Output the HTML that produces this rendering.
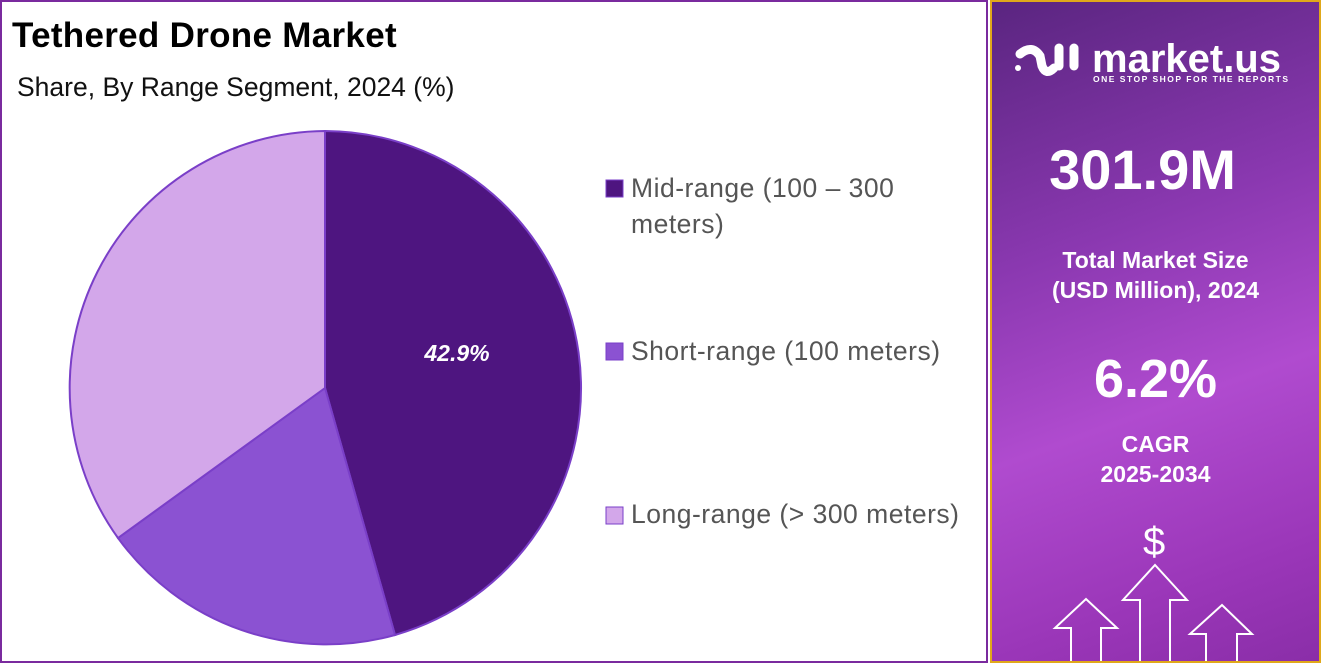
<!DOCTYPE html>
<html><head><style>
body{margin:0;width:1321px;height:663px;overflow:hidden;background:#fff;font-family:"Liberation Sans",sans-serif;}
#left{position:absolute;left:0;top:0;width:984px;height:659px;border:2px solid #7a2a9e;background:#fff;}
#right{position:absolute;left:990px;top:0;width:327px;height:659px;border:2px solid #e0a81a;background:linear-gradient(160deg,#5a2580 0%,#8a38b0 35%,#b04bcf 60%,#9a36b8 85%,#8a2ea8 100%);overflow:hidden;color:#fff;text-align:center;}
.t{position:absolute;font-weight:bold;white-space:nowrap;}
</style></head><body>
<div id="left">
<div class="t" style="left:10px;top:14px;font-size:35px;color:#000;letter-spacing:0.3px;">Tethered Drone Market</div>
<div style="position:absolute;left:15px;top:70px;font-size:26.5px;color:#111;">Share, By Range Segment, 2024 (%)</div>
<svg style="position:absolute;left:-2px;top:-2px" width="990" height="663">
<path d="M325,388 L325,131 A257,257 0 0 1 395,635 Z" fill="#4e1580" stroke="#7a3fc8" stroke-width="2"/>
<path d="M325,388 L395,635 A257,257 0 0 1 118,538 Z" fill="#8b52d2" stroke="#7a3fc8" stroke-width="2"/>
<path d="M325,388 L118,538 A257,257 0 0 1 325,131 Z" fill="#d3a7ea" stroke="#7a3fc8" stroke-width="2"/>
<text x="457" y="361" fill="#fff" font-size="23" font-weight="bold" font-style="italic" text-anchor="middle" font-family="Liberation Sans">42.9%</text>
<rect x="606" y="180" width="17" height="17" fill="#4e1580" stroke="#7a3fc8"/>
<rect x="606" y="343" width="17" height="17" fill="#8b52d2" stroke="#7a3fc8"/>
<rect x="606" y="507" width="17" height="17" fill="#d3a7ea" stroke="#7a3fc8"/>
<g font-family="Liberation Sans" font-size="26.5" fill="#555" letter-spacing="0.5">
<text x="631" y="197">Mid-range (100 – 300</text>
<text x="631" y="233">meters)</text>
<text x="631" y="360">Short-range (100 meters)</text>
<text x="631" y="523">Long-range (&gt; 300 meters)</text>
</g>
</svg>
</div>
<div id="right">
<svg style="position:absolute;left:20px;top:38px" width="70" height="40" fill="none" stroke="#fff" stroke-width="9" stroke-linecap="round">
<circle cx="6" cy="28" r="3" fill="#fff" stroke="none"/>
<path d="M8,14 Q20,4 28,16 L30,26 Q34,36 42,28"/>
<path d="M47,8 V26"/><path d="M62,8 V26"/>
</svg>
<div class="t" style="left:100px;top:35px;font-size:40px;">market.us</div>
<div class="t" style="left:101px;top:72px;font-size:8.5px;letter-spacing:1.5px;">ONE STOP SHOP FOR THE REPORTS</div>
<div class="t" style="left:0;width:327px;top:135px;font-size:56px;margin-left:-13px;">301.9M</div>
<div class="t" style="left:0;width:327px;top:243px;font-size:23px;line-height:30px;">Total Market Size<br>(USD Million), 2024</div>
<div class="t" style="left:0;width:327px;top:346px;font-size:54px;">6.2%</div>
<div class="t" style="left:0;width:327px;top:427px;font-size:23px;line-height:30px;">CAGR<br>2025-2034</div>
<div style="position:absolute;left:151px;top:518px;font-size:40px;color:#fff;">$</div>
<svg style="position:absolute;left:0;top:0" width="327" height="663" fill="none" stroke="#fff" stroke-width="2">
<path d="M148,663 V598 H131 L163,563 L195,598 H178 V663"/>
<path d="M79,663 V626 H63 L94,597 L125,626 H109 V663"/>
<path d="M214,663 V632 H198 L230,603 L260,632 H245 V663"/>
</svg>
</div>
</body></html>
